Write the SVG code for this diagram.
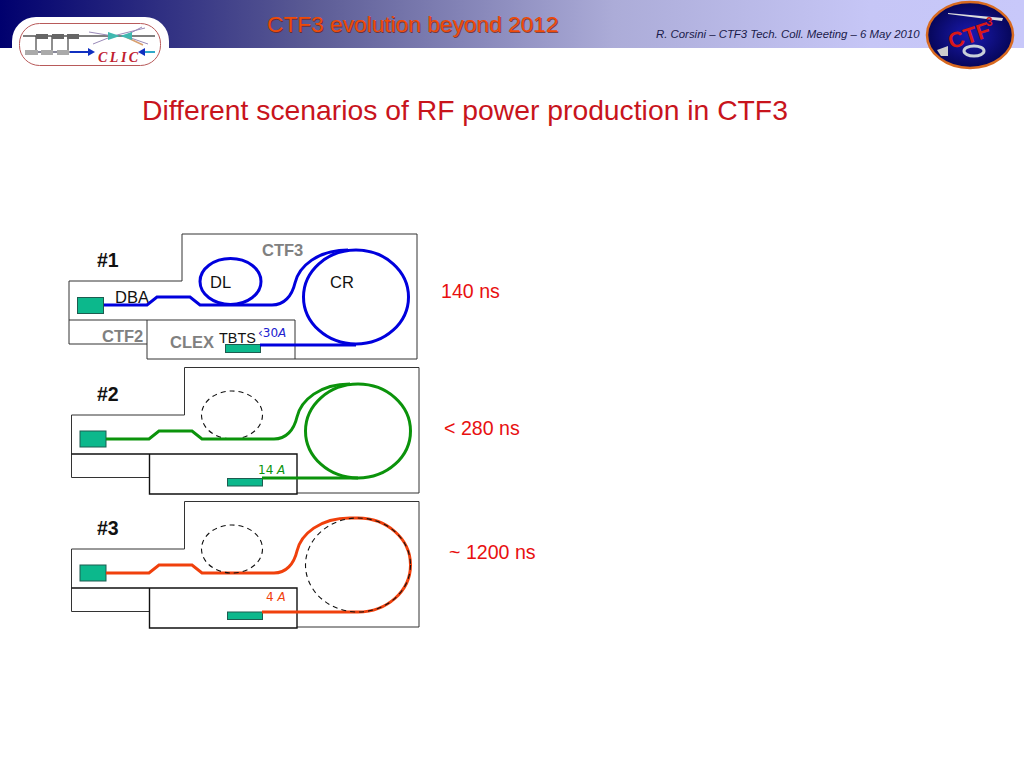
<svg xmlns="http://www.w3.org/2000/svg" width="1024" height="768" viewBox="0 0 1024 768">
<style>
text{font-family:"Liberation Sans",Arial,sans-serif}
.wall{fill:none;stroke:#333;stroke-width:1}
.wallb{fill:none;stroke:#111;stroke-width:1.4}
.ring{fill:none;stroke:#111;stroke-width:1.1;stroke-dasharray:5 4}
.blk{fill:#0cb88c;stroke:#1d5c50;stroke-width:1}
.b{fill:none;stroke:#0000dd;stroke-width:3}
.g{fill:none;stroke:#0b930b;stroke-width:3}
.o{fill:none;stroke:#f0400c;stroke-width:3}
.gray{fill:#808080;font-weight:bold;font-size:16.500px}
.lab{fill:#111;font-size:16.500px}
.num{fill:#111;font-weight:bold;font-size:19.500px}
.ns{fill:#e81010;font-size:19.600px}
.cur{font-family:"DejaVu Sans",sans-serif;font-size:12px}
</style>
<defs>
<linearGradient id="hdr" x1="0" x2="1" y1="0" y2="0">
<stop offset="0" stop-color="#00006e"/><stop offset=".3" stop-color="#5a5a94"/><stop offset=".6" stop-color="#acacd8"/><stop offset=".85" stop-color="#c6c6f6"/><stop offset="1" stop-color="#c8c8fa"/>
</linearGradient>
<radialGradient id="ball" cx=".5" cy=".5" r=".55"><stop offset="0" stop-color="#1a1ab0"/><stop offset="1" stop-color="#040450"/></radialGradient>
<g id="walls"><path class="wall" d="M182 234H417V359H147M182 234V281H69V344H147M69 320H295V359M147 320V359"/></g>
<g id="walls2"><path class="wall" d="M184.500 367.500H419V493H297M184.500 367.500V415H71.500V477.500H149.500"/><path class="wallb" d="M71.500 454H297V494H149.500V454"/></g>
</defs>
<rect width="1024" height="48" fill="url(#hdr)"/>
<rect x="12" y="17" width="157" height="60" rx="24" fill="#fff"/>
<g id="clic-logo">
<rect x="19.500" y="23.500" width="141" height="42" rx="20" fill="#fff" stroke="#b85a5a" stroke-width="1"/>
<path d="M23 36H155" stroke="#555" stroke-width="1.500"/>
<path d="M36 36V52M52 36V52M68 36V52" stroke="#444" stroke-width="1.200"/>
<path d="M25 52H70" stroke="#889" stroke-width="2"/>
<path d="M70 52H90" stroke="#1030c0" stroke-width="2"/><path d="M88 48L95 52L88 56Z" fill="#1030c0"/>
<path d="M145 48L138 52L145 56Z" fill="#1030c0"/>
<path d="M145 52H155" stroke="#30a8c8" stroke-width="2"/>
<g fill="#666"><rect x="36" y="34" width="12" height="5"/><rect x="52" y="34" width="12" height="5"/><rect x="67" y="34" width="12" height="5"/></g>
<g fill="#aaa"><rect x="25" y="50" width="13" height="5"/><rect x="41" y="50" width="12" height="5"/><rect x="57" y="50" width="12" height="5"/></g>
<path d="M89 32L113 36L145 28M93 44L113 36M125 36L148 44M125 36L142 27" stroke="#9a8ab8" stroke-width="1" fill="none"/>
<path d="M126 37L143 45" stroke="#d8a070" stroke-width="1.500"/>
<path d="M108 32L120 36L108 40ZM132 32L120 36L132 40Z" fill="#40b8b0"/>
<text x="98" y="61.500" font-size="14" font-weight="bold" font-style="italic" letter-spacing="2.500" fill="#c02030" style="font-family:'Liberation Serif',serif">CLIC</text>
</g>
<text x="268" y="32.500" font-size="22.700" fill="#702010" opacity=".7">CTF3 evolution beyond 2012</text>
<text x="267" y="31.500" font-size="22.700" fill="#ee4a08">CTF3 evolution beyond 2012</text>
<text x="656" y="38" font-size="11.400" font-style="italic" fill="#1a1a4a">R. Corsini – CTF3 Tech. Coll. Meeting – 6 May 2010</text>
<g id="ctf3-logo">
<ellipse cx="970" cy="35" rx="43" ry="33" fill="url(#ball)" stroke="#d86a20" stroke-width="2.500"/>
<path d="M948 14L1002 21L1003 18L948 13Z" fill="#ddd"/>
<ellipse cx="974" cy="51" rx="10" ry="5" fill="none" stroke="#c8d0d8" stroke-width="3"/>
<path d="M937 50L948 46L948 56L941 56Z" fill="#ccc"/>
<text x="948" y="46" font-size="22" font-weight="bold" fill="#d81818" transform="rotate(-18 960 38)">CTF</text>
<text x="986" y="26" font-size="12" font-weight="bold" fill="#d81818">3</text>
</g>
<text x="142" y="119.500" font-size="28.300" fill="#c8141c">Different scenarios of RF power production in CTF3</text>

<g id="panel1">
<use href="#walls"/>
<ellipse id="DL" cx="230.500" cy="281.500" rx="30.500" ry="23" class="b"/>
<ellipse id="CR" cx="356" cy="297" rx="52.500" ry="47" class="b"/>
<rect class="blk" x="77.500" y="297.500" width="26" height="16"/>
<rect class="blk" x="225.500" y="344.500" width="35" height="8"/>
<text x="97" y="267" class="num">#1</text>
<text x="262" y="256" class="gray">CTF3</text>
<text x="210" y="288" class="lab">DL</text>
<text x="330" y="288" class="lab">CR</text>
<text x="115" y="303" class="lab">DBA</text>
<text x="102" y="342" class="gray">CTF2</text>
<text x="170" y="348" class="gray">CLEX</text>
<text x="219" y="343" font-size="14.400" fill="#111">TBTS</text>
<text x="258" y="337" class="cur" fill="#2020d0">‹30<tspan font-style="italic">A</tspan></text>
</g>
<g id="panel2">
<use href="#walls2"/>
<ellipse cx="232" cy="415" rx="30.500" ry="24" class="ring"/>
<ellipse id="CR2" cx="358" cy="431" rx="52.500" ry="47" class="g"/>
<rect class="blk" x="80" y="431" width="26" height="16"/>
<rect class="blk" x="227.500" y="478.500" width="35" height="7.500"/>
<text x="97" y="401" class="num">#2</text>
<text x="258" y="474" class="cur" fill="#0b930b">14 <tspan font-style="italic">A</tspan></text>
</g>
<g id="panel3">
<use href="#walls2" y="134"/>
<rect class="blk" x="80" y="565" width="26" height="16"/>
<rect class="blk" x="227.500" y="612" width="35" height="7.500"/>
<text x="97" y="535" class="num">#3</text>
<text x="266" y="601" class="cur" fill="#f0400c">4 <tspan font-style="italic">A</tspan></text>
</g>
<g id="connectors">
<path class="b" d="M104 305H147L157 297H190L200 305H272C284 305 292 296 295 283C299 266 318 250 348 250M260 345H356"/>
<path class="g" d="M106 439H149L159 431H192L202 439H274C286 439 294 430 297 417C301 400 320 384 350 384M262 478H358"/>
<path class="o" d="M106 573H149L159 565H192L202 573H274C286 573 294 564 297 551C301 534 320 518 350 518H358C387 518 410.500 539 410.500 565C410.500 591 387 612 358 612H262"/>
</g>
<g id="panel3-rings">
<ellipse cx="232" cy="549" rx="30.500" ry="24" class="ring"/>
<ellipse cx="358" cy="565" rx="52.500" ry="47" class="ring"/>
</g>
<text x="441" y="298" class="ns">140 ns</text>
<text x="444" y="435" class="ns">&lt; 280 ns</text>
<text x="449" y="559" class="ns">~ 1200 ns</text>
</svg>
